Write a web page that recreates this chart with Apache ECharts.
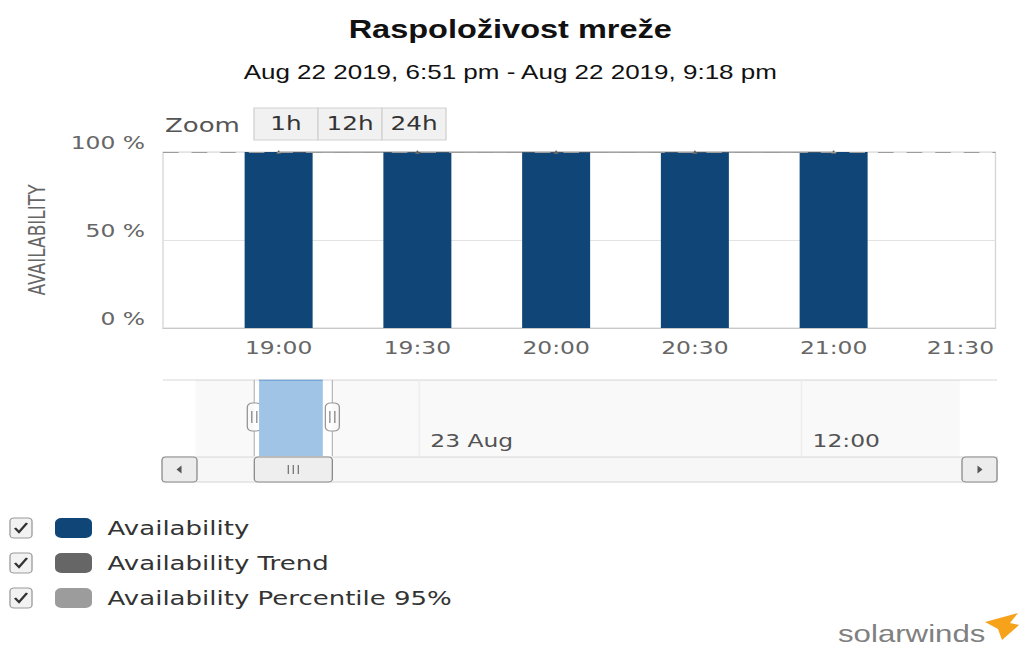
<!DOCTYPE html>
<html>
<head>
<meta charset="utf-8">
<title>Raspoloživost mreže</title>
<script src="https://cdn.jsdelivr.net/npm/echarts@6/dist/echarts.min.js"></script>
<style>
  html, body { margin: 0; padding: 0; background: #fff; overflow: hidden; }
  #wrap { width: 1020px; height: 650px; overflow: hidden; }
  #chart { height: 650px; transform-origin: 0 0; }
</style>
</head>
<body>
<div id="wrap"><div id="chart"></div></div>
<script>
// ---- data ----
const barTimes = ['19:00', '19:30', '20:00', '20:30', '21:00'];
const availability = [100, 100, 100, 100, 100];
const availabilityTrend = [100, 100, 100, 100, 100];
const percentile95 = 100;
const timeTicks = ['19:00', '19:30', '20:00', '20:30', '21:00', '21:30'];
const navTickValues = [1440, 2160];          // minutes from Aug 22 00:00
const navTickLabels = ['23 Aug', '12:00'];
const rangeStart = '18:51';
const rangeEnd = '21:18';
const legendNames = ['Availability', 'Availability Trend', 'Availability Percentile 95%'];
const zoomButtons = ['1h', '12h', '24h'];

// ---- layout: the page is drawn narrow and widened horizontally ----
const S = 1.3;
const X = v => v / S;
const chartEl = document.getElementById('chart');
chartEl.style.width = (1020 / S) + 'px';
chartEl.style.transform = 'scaleX(' + S + ')';

const toMin = t => { const [h, m] = t.split(':').map(Number); return h * 60 + m; };
const pad2 = n => String(n).padStart(2, '0');
const fmtMin = v => pad2(Math.floor(v / 60)) + ':' + pad2(Math.round(v % 60));

const AXIS_FONT = 'DejaVu Sans';
const barData = barTimes.map((t, i) => [toMin(t), availability[i]]);
const trendData = barTimes.map((t, i) => [toMin(t), availabilityTrend[i]]);
const lastTick = toMin(timeTicks[timeTicks.length - 1]);

const chart = echarts.init(chartEl, null, { renderer: 'svg' });

const option = {
  animation: false,
  title: {
    text: 'Raspoloživost mreže',
    subtext: 'Aug 22 2019, 6:51 pm - Aug 22 2019, 9:18 pm',
    left: 'center',
    top: 12,
    itemGap: 20,
    textStyle: { fontFamily: 'Liberation Sans', fontWeight: 'bold', fontSize: 25, color: '#111' },
    subtextStyle: { fontFamily: 'Liberation Sans', fontSize: 20, color: '#111' }
  },
  legend: {
    data: legendNames,
    orient: 'vertical',
    left: X(55),
    top: 518,
    icon: 'roundRect',
    itemWidth: X(37),
    itemHeight: 20,
    itemGap: 15,
    padding: 0,
    selectedMode: false,
    textStyle: { fontFamily: AXIS_FONT, fontSize: 20, color: '#333', padding: [0, 0, 0, 7] }
  },
  grid: [
    { left: X(163), right: X(25), top: 152, height: 176, show: true, borderColor: '#d4d4d4', borderWidth: 1 },
    { left: X(163), right: X(23), top: 380, height: 76, show: false }
  ],
  xAxis: [
    {
      type: 'value', gridIndex: 0, min: 1115, max: 1295,
      axisLine: { show: true, lineStyle: { color: '#c8c8c8' } },
      axisTick: { show: false },
      splitLine: { show: false },
      axisLabel: {
        customValues: timeTicks.map(toMin),
        margin: 11,
        fontFamily: AXIS_FONT, fontSize: 18, color: '#666',
        formatter: v => v === lastTick ? '{edge|' + fmtMin(v) + '}' : fmtMin(v),
        rich: { edge: { fontFamily: AXIS_FONT, fontSize: 18, color: '#666', padding: [0, X(24), 0, 0] } }
      }
    },
    {
      type: 'value', gridIndex: 1, min: 959, max: 2531,
      axisLine: { show: false },
      axisTick: { show: false, customValues: navTickValues },
      splitLine: { show: false },
      axisLabel: {
        customValues: navTickValues,
        inside: true,
        margin: 6,
        align: 'left',
        padding: [0, 0, 0, X(12)],
        fontFamily: AXIS_FONT, fontSize: 18, color: '#555',
        formatter: v => navTickLabels[navTickValues.indexOf(v)]
      }
    }
  ],
  yAxis: [
    {
      type: 'value', gridIndex: 0, min: 0, max: 100, interval: 50,
      axisLine: { show: false },
      axisTick: { show: false },
      splitLine: { lineStyle: { color: '#e3e3e3' } },
      axisLabel: {
        formatter: '{value} %', margin: X(18), verticalAlign: 'bottom',
        fontFamily: AXIS_FONT, fontSize: 18, color: '#666'
      }
    },
    { type: 'value', gridIndex: 1, min: 0, max: 100, show: false }
  ],
  series: [
    {
      name: 'Availability', type: 'bar', xAxisIndex: 0, yAxisIndex: 0,
      data: barData, barWidth: X(68),
      itemStyle: { color: '#0f4677' }, z: 2
    },
    {
      name: 'Availability Trend', type: 'line', xAxisIndex: 0, yAxisIndex: 0,
      data: trendData, symbol: 'triangle', symbolSize: 4, showSymbol: true,
      itemStyle: { color: '#666' }, lineStyle: { color: '#666', width: 1 }, z: 4
    },
    {
      name: 'Availability Percentile 95%', type: 'line', xAxisIndex: 0, yAxisIndex: 0,
      data: [], itemStyle: { color: '#9c9c9c' }, lineStyle: { color: '#9c9c9c' },
      markLine: {
        silent: true, symbol: 'none', label: { show: false },
        lineStyle: { color: '#9c9c9c', type: [12, 10], width: 1 },
        data: [{ yAxis: percentile95 }]
      }, z: 3
    },
    {
      name: 'navigator', type: 'line', xAxisIndex: 1, yAxisIndex: 1,
      data: barData, symbol: 'none', silent: true,
      lineStyle: { color: '#4f88c6', width: 1 },
      areaStyle: { color: '#9fc4e6', opacity: 1 },
      markArea: {
        silent: true,
        itemStyle: { color: 'rgba(0,0,0,0.022)' },
        data: [
          [{ xAxis: 1020 }, { xAxis: toMin(rangeStart) }],
          [{ xAxis: toMin(rangeEnd) }, { xAxis: 2460 }]
        ]
      },
      markLine: {
        silent: true, symbol: 'none', label: { show: false },
        lineStyle: { color: '#ececec', type: 'solid', width: 1 },
        data: navTickValues.map(v => ({ xAxis: v }))
      }
    }
  ]
};

chart.setOption(option);

// ---- interface pieces: zoom buttons, navigator handles, scrollbar, checkboxes ----
const hL = chart.convertToPixel({ xAxisIndex: 1 }, toMin(rangeStart));
const hR = chart.convertToPixel({ xAxisIndex: 1 }, toMin(rangeEnd));
const navTop = 380, navBottom = 456;

function handle(x) {
  const w = X(14), top = 403, h = 28;
  return [
    { type: 'line', shape: { x1: x, y1: navTop, x2: x, y2: navBottom }, style: { stroke: '#bdbdbd', lineWidth: 1 } },
    { type: 'rect', shape: { x: x - w / 2, y: top, width: w, height: h, r: 4 }, style: { fill: '#fff', stroke: '#9a9a9a', lineWidth: 1 } },
    { type: 'line', shape: { x1: x - X(2.5), y1: top + 8, x2: x - X(2.5), y2: top + h - 8 }, style: { stroke: '#888', lineWidth: 1 } },
    { type: 'line', shape: { x1: x + X(2.5), y1: top + 8, x2: x + X(2.5), y2: top + h - 8 }, style: { stroke: '#888', lineWidth: 1 } }
  ];
}

const g = [];
// Zoom selector
g.push({ type: 'text', x: X(165), y: 125, style: { text: 'Zoom', font: '20px "DejaVu Sans"', fill: '#555', verticalAlign: 'middle' } });
zoomButtons.forEach((b, i) => {
  const x0 = X(254 + i * 64);
  g.push({ type: 'rect', shape: { x: x0, y: 108, width: X(64), height: 32 }, style: { fill: '#f1f1f1', stroke: '#d2d2d2', lineWidth: 1 } });
  g.push({ type: 'text', x: x0 + X(32), y: 124, style: { text: b, font: '19px "DejaVu Sans"', fill: '#333', align: 'center', verticalAlign: 'middle' } });
});
// vertical axis title
g.push({ type: 'text', x: X(38), y: 240, rotation: Math.PI / 2, style: { text: 'AVAILABILITY', font: '17px "DejaVu Sans"', fill: '#666', align: 'center', verticalAlign: 'middle' } });
// navigator top line
g.push({ type: 'line', shape: { x1: X(163), y1: navTop, x2: X(997), y2: navTop }, style: { stroke: '#d8d8d8', lineWidth: 1 } });
// scrollbar
const sbTop = 457, sbH = 25;
g.push({ type: 'rect', shape: { x: X(163), y: sbTop, width: X(834), height: sbH }, style: { fill: '#f7f7f7', stroke: '#d6d6d6', lineWidth: 1 } });
[[162, -1], [962, 1]].forEach(([bx, dir]) => {
  g.push({ type: 'rect', shape: { x: X(bx), y: sbTop, width: X(35), height: sbH, r: 3 }, style: { fill: '#ececec', stroke: '#8a8a8a', lineWidth: 1 } });
  const cx = X(bx + 17.5), cy = sbTop + sbH / 2;
  g.push({ type: 'polygon', shape: { points: [[cx + dir * X(3), cy], [cx - dir * X(2), cy - 4], [cx - dir * X(2), cy + 4]] }, style: { fill: '#555' } });
});
g.push({ type: 'rect', shape: { x: hL, y: sbTop, width: hR - hL, height: sbH, r: 3 }, style: { fill: '#eeeeee', stroke: '#8a8a8a', lineWidth: 1 } });
[-X(5), 0, X(5)].forEach(d => {
  const cx = (hL + hR) / 2 + d;
  g.push({ type: 'line', shape: { x1: cx, y1: sbTop + 8, x2: cx, y2: sbTop + sbH - 8 }, style: { stroke: '#777', lineWidth: 1 } });
});
// navigator handles
g.push(...handle(hL), ...handle(hR));
// legend checkboxes
legendNames.forEach((n, i) => {
  const y = 518 + i * 35;
  g.push({ type: 'rect', shape: { x: X(10), y: y, width: X(22), height: 20, r: 3 }, style: { fill: '#f2f2f2', stroke: '#9a9a9a', lineWidth: 1 } });
  g.push({ type: 'polyline', shape: { points: [[X(15), y + 10], [X(19), y + 14], [X(27), y + 5]] }, style: { stroke: '#333', lineWidth: 2, fill: null } });
});
// brand mark
g.push({ type: 'text', x: X(838), y: 634, style: { text: 'solarwinds', font: '24px "Liberation Sans"', fill: '#808080', verticalAlign: 'middle' } });
g.push({ type: 'polygon', shape: { points: [[X(985), 622], [X(1018), 613], [X(1010), 623], [X(1019), 625], [X(1002), 640], [X(998), 629]] }, style: { fill: '#f7a21b' } });

chart.setOption({ graphic: { elements: g } });
</script>
</body>
</html>
